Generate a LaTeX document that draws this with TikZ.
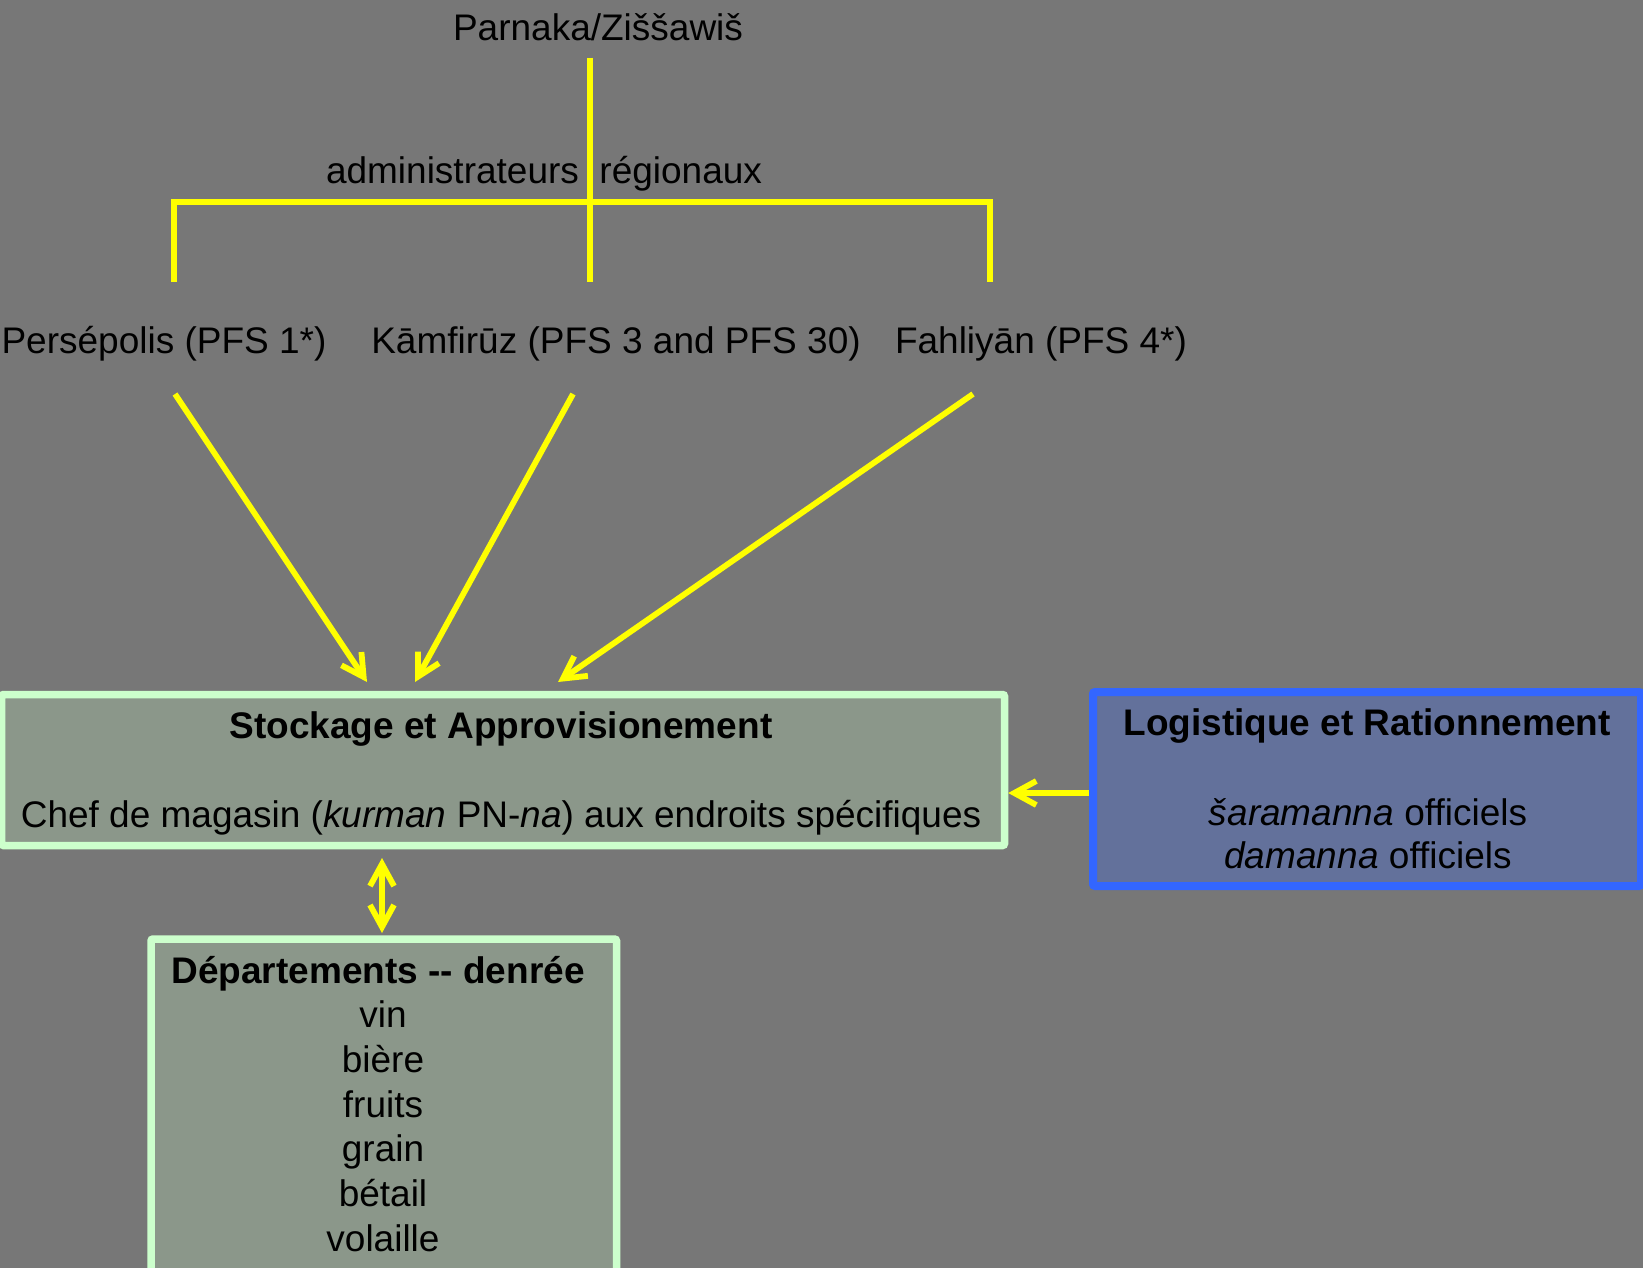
\documentclass[tikz,border=0pt]{standalone}
\usepackage{fontspec}
\setmainfont{Liberation Sans}
\usetikzlibrary{arrows.meta}
\definecolor{bgcol}{HTML}{777777}
\definecolor{linkcol}{HTML}{FFFF00}
\definecolor{stockfill}{HTML}{8B978A}
\definecolor{stockline}{HTML}{CCFFCC}
\definecolor{logfill}{HTML}{63719B}
\definecolor{logline}{HTML}{3366FF}
\begin{document}
\begin{tikzpicture}[x=1pt,y=-1pt,
  lbl/.style={inner sep=0pt, anchor=base, font=\fontsize{37}{44}\selectfont},
  ttl/.style={lbl, font=\fontsize{37}{44}\selectfont\bfseries},
  tree/.style={draw=linkcol, line width=6pt},
  link/.style={draw=linkcol, line width=5.8pt, -{Straight Barb[length=22pt,width=24pt]}},
  dlink/.style={draw=linkcol, line width=5.8pt, {Straight Barb[length=22pt,width=24pt]}-{Straight Barb[length=22pt,width=24pt]}},
  greenbox/.style={draw=stockline, fill=stockfill, line width=7.5pt, rounded corners=2pt, inner sep=0pt},
  bluebox/.style={draw=logline, fill=logfill, line width=8pt, rounded corners=2pt, inner sep=0pt},
]
\clip (0,0) rectangle (1643,1268);
\fill[bgcol] (0,0) rectangle (1643,1268);

% boxes
\node[greenbox, minimum width=1003pt, minimum height=151pt] (stock) at (503,770) {};
\node[bluebox, minimum width=548pt, minimum height=194pt] (log) at (1367,789) {};
\node[greenbox, minimum width=465.5pt, minimum height=371pt] (dept) at (383.75,1124.5) {};

% top of the hierarchy
\node[lbl] (par) at (598,40.5) {Parnaka/Ziššawiš};
\node[lbl] (adm) at (544,183.5) {administrateurs~~régionaux};
\node[lbl] (pers) at (164,353.5) {Persépolis (PFS 1*)};
\node[lbl] (kam) at (616,353.5) {Kāmfirūz (PFS 3 and PFS 30)};
\node[lbl] (fah) at (1041,353.5) {Fahliyān (PFS 4*)};

% tree lines
\coordinate (t0) at (590,58);
\coordinate (t1) at (590,282);
\coordinate (bl) at (174,202);
\coordinate (br) at (990,202);
\coordinate (bl2) at (174,282);
\coordinate (br2) at (990,282);
\draw[tree] (t0) -- (t1);
\draw[tree] (bl2) -- (bl) -- (br) -- (br2);

% arrows into the store box
\coordinate (a1) at (175,394);
\coordinate (a2) at (573,394);
\coordinate (a3) at (973,394);
\coordinate (b1) at (367,682);
\coordinate (b2) at (415,682);
\coordinate (b3) at (558,682);
\draw[link] (a1) -- (b1);
\draw[link] (a2) -- (b2);
\draw[link] (a3) -- (b3);

% store box texts
\node[ttl] (stockt) at (501,738.5) {Stockage et Approvisionement};
\node[lbl] (stockc) at (501,827.5) {Chef de magasin (\textit{kurman} PN-\textit{na}) aux endroits spécifiques};

% logistics box texts
\node[ttl] (logt) at (1367,735.5) {Logistique et Rationnement};
\node[lbl] (log1) at (1368,825.5) {\textit{šaramanna} officiels};
\node[lbl] (log2) at (1368,868.5) {\textit{damanna} officiels};

\coordinate (la) at (1087,793);
\draw[link] (log.west |- la) -- (stock.east |- la);

% link between store and departments
\coordinate (d1) at (382,858);
\coordinate (d2) at (382,933);
\draw[dlink] (d1) -- (d2);

% departments
\node[ttl] (deptt) at (378,983.5) {Départements {-}{-} denrée};
\foreach \t [count=\i] in {vin,bière,fruits,grain,bétail,volaille}
  \node[lbl] (dep\i) at (383,{1027.5+44.8*(\i-1)}) {\t};
\end{tikzpicture}
\end{document}
